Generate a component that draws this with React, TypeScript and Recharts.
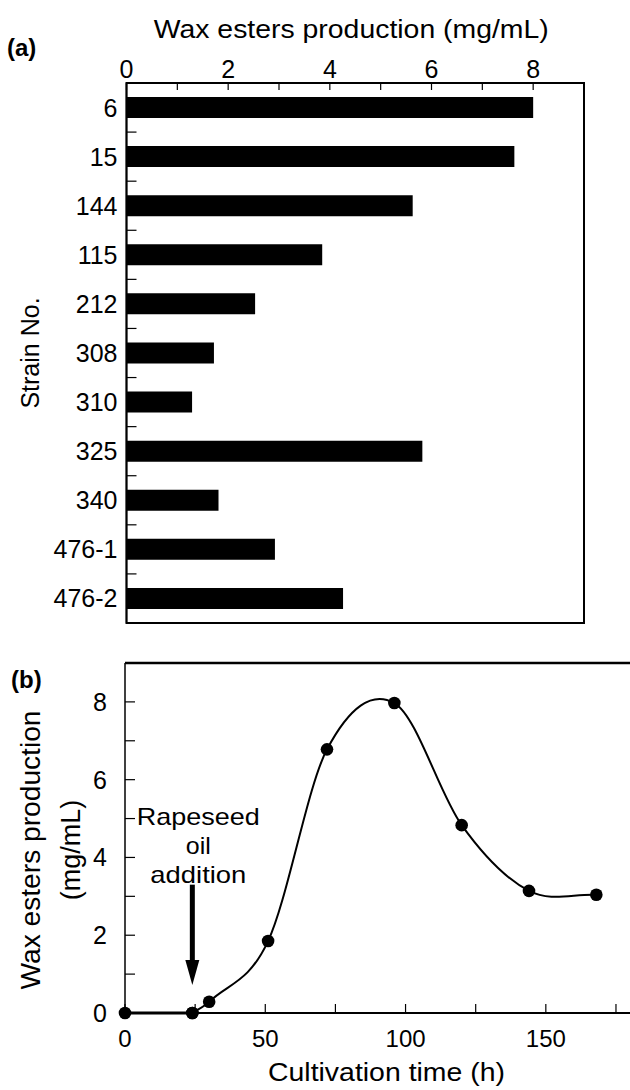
import { Bar, BarChart, Line, LineChart, ReferenceArea, ReferenceLine, XAxis, YAxis } from "recharts";

const FONT = "'Liberation Sans', Arial, sans-serif";

// (a) wax esters by strain
const strains = ["6", "15", "144", "115", "212", "308", "310", "325", "340", "476-1", "476-2"];
const waxByStrain = [8.0, 7.63, 5.63, 3.85, 2.53, 1.72, 1.29, 5.82, 1.81, 2.92, 4.26];
const strainTicks = [0, 1, 2, 3, 4, 5, 6, 7, 8, 9];

// (b) time course
const hours = [0, 24, 30, 51, 72, 96, 120, 144, 168];
const waxOverTime = [0, 0, 0.29, 1.85, 6.78, 7.97, 4.83, 3.14, 3.04];
const timeTicks = [0, 25, 50, 75, 100, 125, 150, 175];
const waxTicks = [0, 1, 2, 3, 4, 5, 6, 7, 8, 9];
const noteLines = ["Rapeseed", "oil", "addition"];
const oilAddedAt = 24;

const barData = strains.map((strain, i) => ({ strain, wax: waxByStrain[i] }));
const timeData = hours.map((t, i) => ({ t, w: waxOverTime[i] }));
const lagPhase = timeData.slice(0, 2);
const growthPhase = timeData.slice(1);

const A_PLOT_H = 540;

// smooth curve through the points, tangents from neighbouring points (like the hand-fit in the paper)
function hermiteCurve(context: any) {
  let xs: number[] = [];
  let ys: number[] = [];
  return {
    areaStart() {},
    areaEnd() {},
    lineStart() {
      xs = [];
      ys = [];
    },
    point(x: number, y: number) {
      xs.push(+x);
      ys.push(+y);
    },
    lineEnd() {
      const n = xs.length;
      if (!n) return;
      const m = xs.map((_, i) => {
        const a = Math.max(0, i - 1);
        const b = Math.min(n - 1, i + 1);
        return (ys[b] - ys[a]) / (xs[b] - xs[a]);
      });
      context.moveTo(xs[0], ys[0]);
      for (let i = 0; i < n - 1; i++) {
        const d = (xs[i + 1] - xs[i]) / 3;
        context.bezierCurveTo(xs[i] + d, ys[i] + m[i] * d, xs[i + 1] - d, ys[i + 1] - m[i + 1] * d, xs[i + 1], ys[i + 1]);
      }
    },
  };
}

function TopTick({ x, y, payload }: any) {
  const v = payload.value;
  return (
    <g>
      <line x1={x} x2={x} y1={y} y2={y + 7} stroke="#000" strokeWidth={1.2} />
      {v % 2 === 0 && (
        <text x={x} y={y - 5} textAnchor="middle" fontSize={25} fontFamily={FONT} fill="#000">
          {v}
        </text>
      )}
    </g>
  );
}

function StrainTick({ x, y, payload, index }: any) {
  const band = A_PLOT_H / strains.length;
  return (
    <g>
      <text x={x - 9} y={y} dy="0.36em" textAnchor="end" fontSize={25} fontFamily={FONT} fill="#000">
        {payload.value}
      </text>
      {index < strains.length - 1 && (
        <line x1={x} x2={x + 10} y1={y + band / 2} y2={y + band / 2} stroke="#000" strokeWidth={1.2} />
      )}
    </g>
  );
}

function TimeTick({ x, y, payload }: any) {
  const v = payload.value;
  return (
    <g>
      <line x1={x} x2={x} y1={y} y2={y - 9} stroke="#000" strokeWidth={1.2} />
      {v % 50 === 0 && (
        <text x={x} y={y + 34} textAnchor="middle" fontSize={24} fontFamily={FONT} fill="#000">
          {v}
        </text>
      )}
    </g>
  );
}

function WaxTick({ x, y, payload }: any) {
  const v = payload.value;
  return (
    <g>
      <line x1={x} x2={x + 10} y1={y} y2={y} stroke="#000" strokeWidth={1.2} />
      {v % 2 === 0 && (
        <text x={x - 18} y={y} dy="0.36em" textAnchor="end" fontSize={25} fontFamily={FONT} fill="#000">
          {v}
        </text>
      )}
    </g>
  );
}

function ArrowShape({ x1, y1, x2, y2 }: any) {
  const head = 25;
  return (
    <g>
      <line x1={x1} y1={y1} x2={x2} y2={y2 - head + 2} stroke="#000" strokeWidth={5} />
      <polygon points={`${x2 - 7},${y2 - head} ${x2 + 7},${y2 - head} ${x2},${y2}`} fill="#000" />
      {noteLines.map((line, i) => (
        <text
          key={line}
          x={x1 + 6}
          y={y1 - 60 + i * 29}
          textAnchor="middle"
          fontSize={24}
          fontFamily={FONT}
          fill="#000"
          textLength={[123, 25, 96][i]}
          lengthAdjust="spacingAndGlyphs"
        >
          {line}
        </text>
      ))}
    </g>
  );
}

function StrainChart() {
  return (
    <BarChart
      width={630}
      height={640}
      data={barData}
      layout="vertical"
      margin={{ top: 43, right: 46, bottom: 17, left: 0 }}
    >
      <XAxis
        type="number"
        orientation="top"
        domain={[0, 9]}
        ticks={strainTicks}
        height={40}
        tickSize={0}
        tickMargin={0}
        tickLine={false}
        axisLine={{ stroke: "#000", strokeWidth: 1.5 }}
        tick={TopTick}
        label={{
          content: ({ viewBox }: any) => (
            <g>
              <text
                x={viewBox.x + viewBox.width / 2 - 4}
                y={38}
                textAnchor="middle"
                fontSize={26}
                fontFamily={FONT}
                textLength={395}
                lengthAdjust="spacingAndGlyphs"
              >
                Wax esters production (mg/mL)
              </text>
              <text x={7} y={56} fontSize={24} fontWeight="bold" fontFamily={FONT}>
                (a)
              </text>
            </g>
          ),
        }}
      />
      <YAxis
        type="category"
        dataKey="strain"
        width={126.5}
        tickSize={0}
        tickMargin={0}
        tickLine={false}
        axisLine={{ stroke: "#000", strokeWidth: 1.5 }}
        tick={StrainTick}
        label={{
          content: ({ viewBox }: any) => (
            <text
              x={30}
              y={viewBox.y + viewBox.height / 2}
              transform={`rotate(-90, 30, ${viewBox.y + viewBox.height / 2})`}
              textAnchor="middle"
              dominantBaseline="central"
              fontSize={25}
              fontFamily={FONT}
            >
              Strain No.
            </text>
          ),
        }}
      />
      <Bar dataKey="wax" fill="#000" barSize={21} isAnimationActive={false} />
      <ReferenceArea x1={0} x2={9} fill="none" stroke="#000" strokeWidth={2} ifOverflow="visible" />
    </BarChart>
  );
}

function TimeCourseChart() {
  return (
    <LineChart width={630} height={450} margin={{ top: 23, right: 0, bottom: 37, left: 0 }}>
      <XAxis
        type="number"
        dataKey="t"
        domain={[0, 180]}
        ticks={timeTicks}
        height={40}
        tickSize={0}
        tickMargin={0}
        tickLine={false}
        axisLine={{ stroke: "#000", strokeWidth: 2.2 }}
        tick={TimeTick}
        label={{
          content: ({ viewBox }: any) => (
            <text
              x={viewBox.x + viewBox.width / 2 + 9}
              y={viewBox.y + 68}
              textAnchor="middle"
              fontSize={25}
              fontFamily={FONT}
              textLength={237}
              lengthAdjust="spacingAndGlyphs"
            >
              Cultivation time (h)
            </text>
          ),
        }}
      />
      <YAxis
        type="number"
        domain={[0, 9]}
        ticks={waxTicks}
        width={125}
        tickSize={0}
        tickMargin={0}
        tickLine={false}
        axisLine={{ stroke: "#000", strokeWidth: 1.5 }}
        tick={WaxTick}
        label={{
          content: ({ viewBox }: any) => {
            const cy = viewBox.y + viewBox.height / 2 + 12;
            return (
              <g>
                <text x={11} y={48} fontSize={24} fontWeight="bold" fontFamily={FONT}>
                  (b)
                </text>
                <text
                  x={31}
                  y={cy}
                  transform={`rotate(-90, 31, ${cy})`}
                  textAnchor="middle"
                  dominantBaseline="central"
                  fontSize={27}
                  fontFamily={FONT}
                  textLength={279}
                  lengthAdjust="spacingAndGlyphs"
                >
                  Wax esters production
                </text>
                <text
                  x={71}
                  y={cy}
                  transform={`rotate(-90, 71, ${cy})`}
                  textAnchor="middle"
                  dominantBaseline="central"
                  fontSize={27}
                  fontFamily={FONT}
                >
                  (mg/mL)
                </text>
              </g>
            );
          },
        }}
      />
      <ReferenceLine y={9} stroke="#000" strokeWidth={2.5} ifOverflow="visible" />
      <ReferenceLine
        segment={[
          { x: oilAddedAt, y: 3.3 },
          { x: oilAddedAt, y: 0.72 },
        ]}
        shape={ArrowShape}
        ifOverflow="visible"
      />
      <Line
        data={lagPhase}
        dataKey="w"
        type="linear"
        stroke="#000"
        strokeWidth={3}
        dot={{ r: 6.3, fill: "#000", stroke: "#000", strokeWidth: 0 }}
        isAnimationActive={false}
      />
      <Line
        data={growthPhase}
        dataKey="w"
        type={hermiteCurve as any}
        stroke="#000"
        strokeWidth={2}
        dot={{ r: 6.3, fill: "#000", stroke: "#000", strokeWidth: 0 }}
        isAnimationActive={false}
      />
    </LineChart>
  );
}

export default function App() {
  return (
    <div style={{ position: "absolute", left: 0, top: 0, width: 630, height: 1090, background: "#fff" }}>
      <StrainChart />
      <TimeCourseChart />
    </div>
  );
}
